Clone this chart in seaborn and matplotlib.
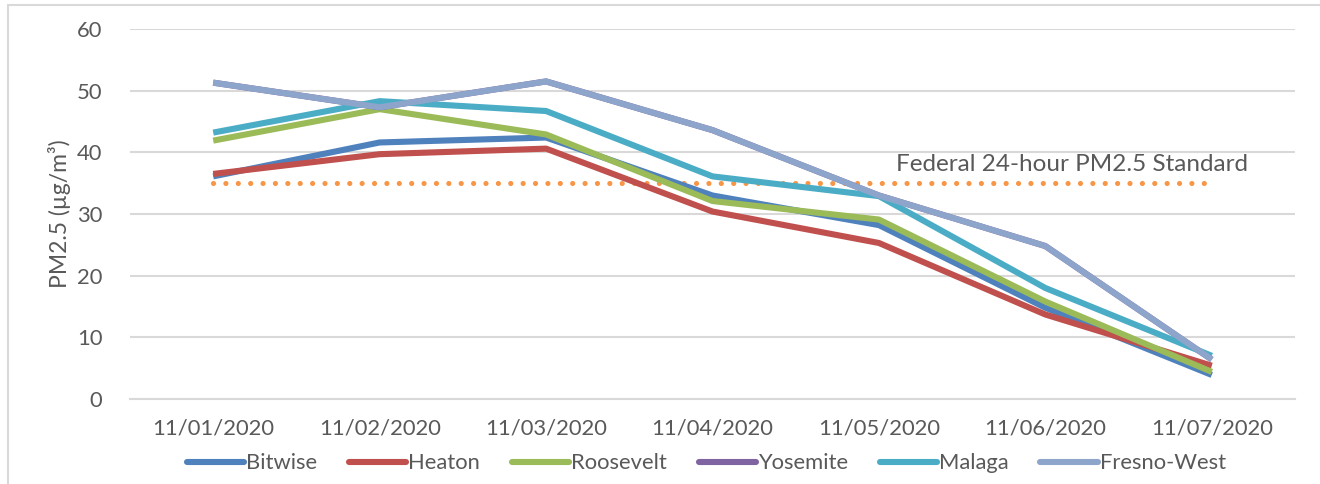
import matplotlib
matplotlib.use("Agg")
import matplotlib.pyplot as plt
import seaborn as sns
import pandas as pd
from matplotlib.patches import Rectangle

# Data
dates = ["11/01/2020", "11/02/2020", "11/03/2020", "11/04/2020",
         "11/05/2020", "11/06/2020", "11/07/2020"]
bitwise = [36.1, 41.6, 42.4, 33.0, 28.2, 14.8, 3.9]
heaton = [36.5, 39.7, 40.6, 30.4, 25.3, 13.7, 5.4]
roosevelt = [41.9, 47.0, 42.9, 32.1, 29.1, 15.8, 4.4]
yosemite = [51.3, 47.3, 51.5, 43.6, 33.0, 24.8, 6.4]
malaga = [43.2, 48.3, 46.7, 36.1, 32.9, 18.0, 7.0]
fresno_west = [51.3, 47.3, 51.5, 43.6, 33.0, 24.8, 6.4]
standard = 35

sites = ["Bitwise", "Heaton", "Roosevelt", "Yosemite", "Malaga", "Fresno-West"]
values = [bitwise, heaton, roosevelt, yosemite, malaga, fresno_west]
colors = ["#4F81BD", "#C0504D", "#9BBB59", "#8064A2", "#4BACC6", "#8EA5CB"]

rows = []
for site, vals in zip(sites, values):
    for i, v in enumerate(vals):
        rows.append({"idx": i, "date": dates[i], "site": site, "pm": v})
df = pd.DataFrame(rows)

sns.set_theme(style="white")
plt.rcParams['font.family'] = ['Lato', 'DejaVu Sans']
text_color = "#595959"

fig = plt.figure(figsize=(13.2, 4.84), dpi=100)
ax = fig.add_axes([130 / 1320, 1 - 399 / 484, 1165 / 1320, 370 / 484])

# outer chart border (cropped in reference)
fig.patches.append(Rectangle((8 / 1320, -0.1), 1.2, 1 - 5 / 484 + 0.1,
                             transform=fig.transFigure, fill=False,
                             edgecolor="#D9D9D9", lw=1.5, zorder=0))

# standard line
ax.plot([0, len(dates) - 1], [standard, standard], color="#F79646", lw=3.7,
        linestyle=(0, (0.01, 2.4)), dash_capstyle="round", zorder=2)
ax.text(6.22, 38.1, "Federal 24-hour PM2.5 Standard", ha="right", va="center",
        fontsize=17.5, color=text_color)

sns.lineplot(data=df, x="idx", y="pm", hue="site", palette=colors,
             hue_order=sites, lw=4.4, ax=ax, legend=False, zorder=3,
             solid_capstyle="butt")

ax.set_xlim(-0.5, len(dates) - 0.5)
ax.set_ylim(0, 60)
ax.set_yticks(range(0, 61, 10))
ax.set_xticks(range(len(dates)))
ax.set_xticklabels(dates)
ax.yaxis.grid(True, color="#D9D9D9", lw=1.5)
ax.set_axisbelow(True)
for s in ["left", "right", "top"]:
    ax.spines[s].set_visible(False)
ax.spines["bottom"].set_color("#D9D9D9")
ax.spines["bottom"].set_linewidth(1.5)
ax.tick_params(axis="y", length=0, pad=20, labelsize=15.8, labelcolor=text_color)
ax.tick_params(axis="x", which="major", length=0, pad=14, labelsize=15.8,
               labelcolor=text_color)
ax.set_xticks([i - 0.5 for i in range(len(dates) + 1)], minor=True)
ax.tick_params(axis="x", which="minor", length=7, width=1.5, color="#D9D9D9",
               direction="out")
ax.set_xlabel("")
ax.set_ylabel("PM2.5 (\u00b5g/m\u00b3)", fontsize=16.5, color=text_color, labelpad=4)

handles = [plt.Line2D([], [], color=c, lw=4.4, solid_capstyle="round") for c in colors]
leg = fig.legend(handles, sites, loc="center", bbox_to_anchor=(0.535, 0.043),
                 ncol=6, frameon=False, fontsize=15.8, handlelength=2.6,
                 handletextpad=0.1, columnspacing=1.45)
for t in leg.get_texts():
    t.set_color(text_color)

fig.savefig("out.png", dpi=100)
